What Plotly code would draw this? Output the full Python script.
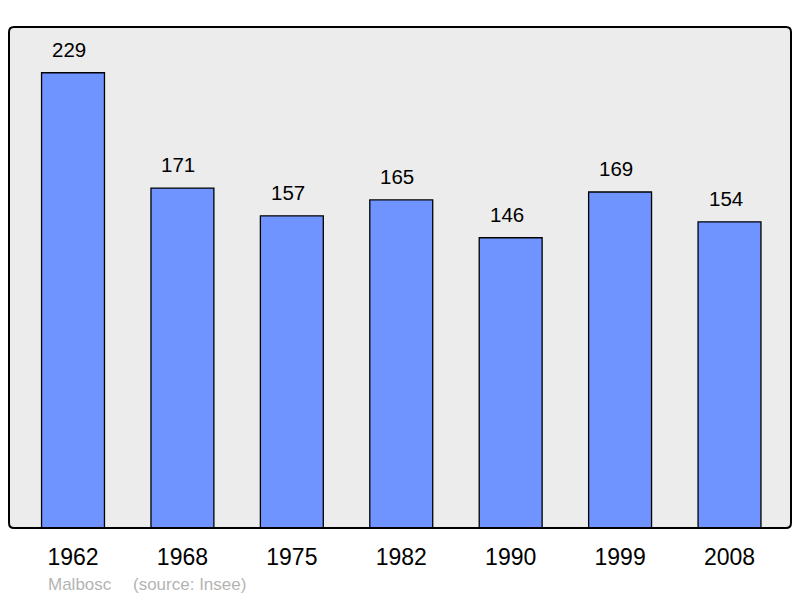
import plotly.graph_objects as go

years = ["1962", "1968", "1975", "1982", "1990", "1999", "2008"]
population = [229, 171, 157, 165, 146, 169, 154]
commune = "Malbosc"
source = "(source: Insee)"

OFF = 8  # page offset of the figure in the browser
W, H = 800 - OFF, 598 - OFF
L, T = 9 - OFF, 27 - OFF
R = W - (791 - OFF)
B = H - (528 - OFF)
pw, ph = W - L - R, H - T - B

xs = list(range(len(years)))

fig = go.Figure()
fig.add_trace(go.Bar(
    x=xs, y=population, width=0.575,
    marker=dict(color="#7094ff", line=dict(color="#000000", width=1.3)),
    hoverinfo="skip",
))

for xi, v in zip(xs, population):
    fig.add_annotation(x=xi, y=v, text=str(v), showarrow=False, yanchor="bottom",
                       yshift=10, xshift=-4,
                       font=dict(size=20.5, color="#000000", family="Liberation Sans"))

# rounded border
r = 5
rx, ry = r / pw, r / ph
path = (f"M {rx},0 L {1-rx},0 Q 1,0 1,{ry} L 1,{1-ry} Q 1,1 {1-rx},1 "
        f"L {rx},1 Q 0,1 0,{1-ry} L 0,{ry} Q 0,0 {rx},0 Z")
fig.add_shape(type="path", path=path, xref="paper", yref="paper",
              line=dict(color="#000000", width=2), layer="above")

fy = -((584 - OFF) - (T + ph)) / ph
fig.add_annotation(xref="paper", yref="paper", x=(46 - OFF - L) / pw, y=fy,
                   xanchor="left", yanchor="middle", text=commune, showarrow=False,
                   font=dict(size=17, color="#b4b4b4", family="Liberation Sans"))
fig.add_annotation(xref="paper", yref="paper", x=(131 - OFF - L) / pw, y=fy,
                   xanchor="left", yanchor="middle", text=source, showarrow=False,
                   font=dict(size=17, color="#b4b4b4", family="Liberation Sans"))

fig.update_layout(
    width=W, height=H,
    margin=dict(l=L, r=R, t=T, b=B, pad=0),
    paper_bgcolor="#ffffff", plot_bgcolor="#ececec",
    showlegend=False,
    xaxis=dict(range=[-0.585, 6.562], tickmode="array", tickvals=xs, ticktext=years,
               showgrid=False, zeroline=False, showline=False, ticks="",
               ticklabelstandoff=13,
               tickfont=dict(size=23, color="#000000", family="Liberation Sans"),
               fixedrange=True),
    yaxis=dict(range=[0, 252], showgrid=False, zeroline=False, showline=False,
               showticklabels=False, ticks="", fixedrange=True),
)

fig.write_html("out.html")
